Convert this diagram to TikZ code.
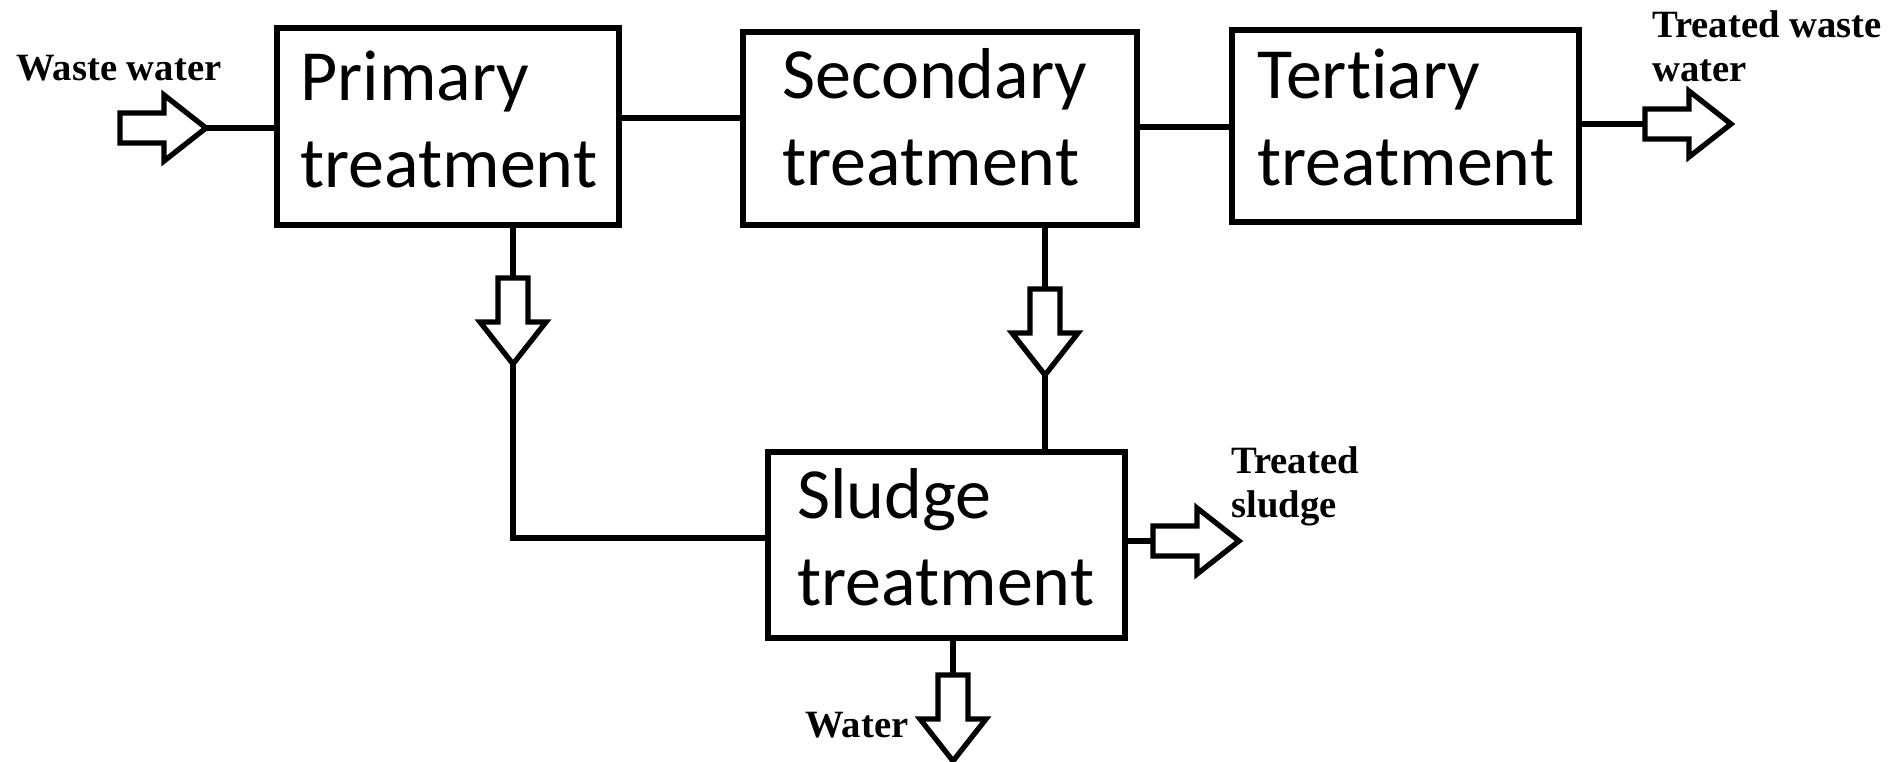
\documentclass[tikz,border=0pt]{standalone}
\usepackage{fontspec}
\setmainfont{Liberation Serif}
\newfontfamily\boxfont[Ligatures={NoCommon}]{Carlito}
\begin{document}
\begin{tikzpicture}[x=0.02cm,y=-0.02cm,
  box/.style={draw, line width=3.4pt, inner sep=0pt, fill=white},
  boxtxt/.style={font=\boxfont\fontsize{41pt}{50pt}\selectfont, inner sep=0pt, anchor=base west},
  lbl/.style={font=\bfseries\fontsize{22pt}{25.6pt}\selectfont, inner sep=0pt, anchor=base west},
  conn/.style={line width=3.4pt, line join=miter},
  fatarrow/.pic={
    \draw[line width=3pt, line join=miter, fill=white]
      (0,-15) -- (44,-15) -- (44,-33) -- (86,0) -- (44,33) -- (44,15) -- (0,15) -- cycle;
    \coordinate (-tail) at (0,0);
    \coordinate (-tip) at (86,0);
  }]
\useasboundingbox (0,0) rectangle (1896,761);

% boxes
\node[box, minimum width=6.84cm, minimum height=3.94cm] (prim) at (448,126.5) {};
\node[box, minimum width=7.88cm, minimum height=3.86cm] (sec) at (940,128.5) {};
\node[box, minimum width=6.94cm, minimum height=3.84cm] (ter) at (1405.5,126) {};
\node[box, minimum width=7.14cm, minimum height=3.72cm] (sl) at (946.5,545) {};

% box texts
\node[boxtxt] (primt) at (300,100) {\begin{tabular}[t]{@{}l@{}}Primary\\treatment\end{tabular}};
\node[boxtxt] (sect) at (782,98) {\begin{tabular}[t]{@{}l@{}}Secondary\\treatment\end{tabular}};
\node[boxtxt] (tert) at (1257,98) {\begin{tabular}[t]{@{}l@{}}Tertiary\\treatment\end{tabular}};
\node[boxtxt] (slt) at (797,518) {\begin{tabular}[t]{@{}l@{}}Sludge\\treatment\end{tabular}};

% fat arrows
\pic (inarr) at (120,128) {fatarrow};
\pic (outarr) at (1645,124) {fatarrow};
\pic[rotate=-90] (primd) at (513,278) {fatarrow};
\pic[rotate=-90] (secd) at (1045,289) {fatarrow};
\pic (slarr) at (1153,541) {fatarrow};
\pic[rotate=-90] (wat) at (953,675) {fatarrow};

% connectors
\draw[conn] (inarr-tip) -- (inarr-tip -| prim.west);
\draw[conn] (prim.east |- 0,118) -- (sec.west |- 0,118);
\draw[conn] (sec.east |- 0,127) -- (ter.west |- 0,127);
\draw[conn] (ter.east |- outarr-tail) -- (outarr-tail);
\draw[conn] (primd-tail |- prim.south) -- (primd-tail);
\draw[conn] (primd-tip) |- (sl.west |- 0,538);
\draw[conn] (secd-tail |- sec.south) -- (secd-tail);
\draw[conn] (secd-tip) -- (secd-tip |- sl.north);
\draw[conn] (sl.east |- slarr-tail) -- (slarr-tail);
\draw[conn] (wat-tail |- sl.south) -- (wat-tail);

% labels
\node[lbl] (wwl) at (16,80) {Waste water};
\node[lbl] (twl) at (1652,37) {\begin{tabular}[t]{@{}l@{}}Treated waste\\water\end{tabular}};
\node[lbl] (tsl) at (1231,473) {\begin{tabular}[t]{@{}l@{}}Treated\\sludge\end{tabular}};
\node[lbl] (wl) at (805,737) {Water};
\end{tikzpicture}
\end{document}
